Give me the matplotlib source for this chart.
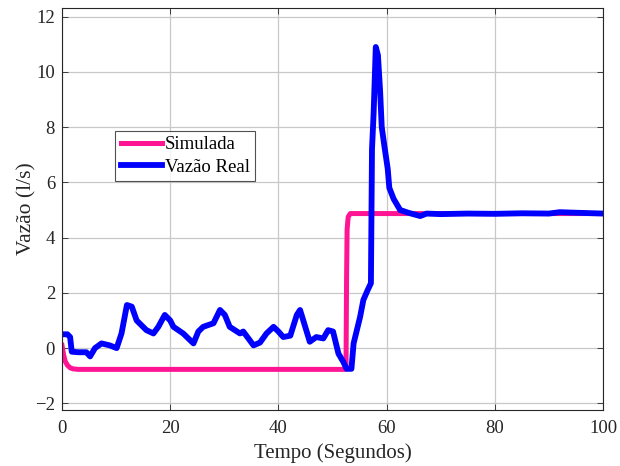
import matplotlib
matplotlib.use("Agg")
import matplotlib.pyplot as plt

plt.rcParams['font.family'] = ['Liberation Serif', 'DejaVu Serif']

# Simulated flow (l/s) over time (s)
t_sim = [0, 0.3, 0.6, 1.0, 1.5, 2.0, 3.0, 52.4, 52.5, 52.6, 52.7, 52.9, 53.3, 100]
q_sim = [0.1, -0.25, -0.48, -0.62, -0.71, -0.75, -0.77, -0.77, -0.6, 2.5, 4.3, 4.75, 4.87, 4.87]

# Measured flow (l/s) over time (s)
t_real = [0, 1.0, 1.5, 1.8, 3.0, 4.5, 5.2, 6.1, 7.3, 8.8, 10.1, 11.0, 12.0, 12.9,
          13.8, 15.6, 16.9, 17.8, 19.0, 20.0, 20.6, 22.4, 24.3, 25.2, 26.1, 28.0,
          29.2, 30.1, 31.0, 32.9, 33.5, 35.4, 36.6, 37.8, 39.1, 40.0, 40.9, 42.2,
          43.4, 44.0, 44.6, 45.8, 47.0, 48.3, 49.2, 50.1, 51.1, 52.0, 52.6, 53.5,
          53.9, 55.1, 55.7, 56.5, 57.1, 57.3, 57.6, 58.0, 58.4, 58.8, 59.1, 59.6,
          60.2, 60.5, 61.3, 62.5, 64.0, 66.2, 67.4, 70.0, 75.0, 80.0, 85.0, 90.0,
          92.0, 95.0, 100.0]
q_real = [0.5, 0.5, 0.4, -0.13, -0.15, -0.15, -0.3, 0.0, 0.17, 0.1, 0.0, 0.53, 1.56, 1.5,
          1.0, 0.65, 0.53, 0.77, 1.2, 1.0, 0.77, 0.53, 0.17, 0.6, 0.77, 0.9,
          1.38, 1.2, 0.77, 0.53, 0.6, 0.1, 0.2, 0.53, 0.77, 0.6, 0.4, 0.45,
          1.2, 1.38, 1.0, 0.23, 0.4, 0.35, 0.65, 0.6, -0.2, -0.5, -0.75, -0.75,
          0.17, 1.13, 1.74, 2.1, 2.35, 7.2, 8.5, 10.9, 10.6, 9.3, 8.0, 7.3,
          6.5, 5.8, 5.4, 5.0, 4.9, 4.78, 4.87, 4.85, 4.87, 4.86, 4.88, 4.87,
          4.92, 4.9, 4.87]

fig = plt.figure(figsize=(6.2, 4.66), dpi=100)
ax = fig.add_axes([0.1, 0.1202, 0.8726, 0.8626])

ax.plot(t_sim, q_sim, color='#ff1493', lw=3.6, label='Simulada', solid_joinstyle='round')
ax.plot(t_real, q_real, color='#0000ff', lw=4.2, label='Vazão Real', solid_joinstyle='round')

ax.set_xlim(0, 100)
ax.set_ylim(-2.24, 12.31)
ax.set_xticks(range(0, 101, 20))
ax.set_yticks(range(-2, 13, 2))
ax.grid(True, color='#c8c8c8', lw=0.9)
ax.set_axisbelow(True)
ax.tick_params(direction='in', length=4, top=True, right=True, labelsize=13.5,
               colors='#262626', width=0.6)
ax.tick_params(axis='x', pad=7)
ax.tick_params(axis='y', pad=5)
for s in ax.spines.values():
    s.set_color('#262626')
    s.set_linewidth(0.8)

ax.set_xlabel('Tempo (Segundos)', fontsize=15, color='#262626', labelpad=5)
ax.set_ylabel('Vazão (l/s)', fontsize=15.5, color='#262626', labelpad=-1)

leg = ax.legend(loc='upper left', bbox_to_anchor=(0.0980, 0.695), fontsize=13.5,
                frameon=True, fancybox=False, edgecolor='#262626',
                handlelength=2.2, handletextpad=0.15, borderpad=0.3,
                labelspacing=0.28, borderaxespad=0)
leg.get_frame().set_linewidth(0.8)

fig.savefig('out.png', dpi=100)
